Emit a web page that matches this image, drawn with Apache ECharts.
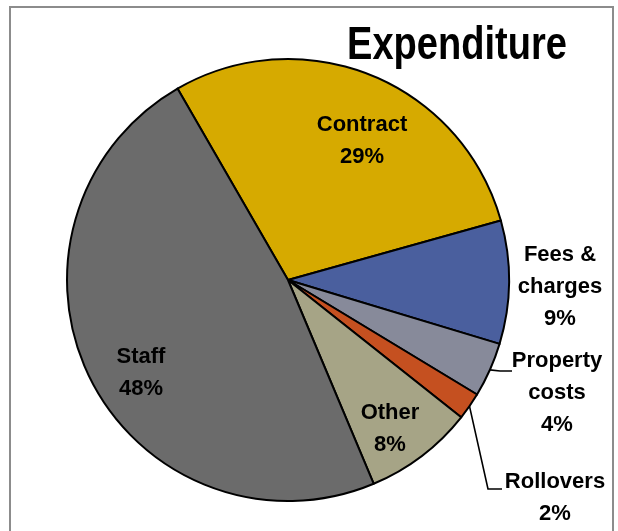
<!DOCTYPE html>
<html>
<head>
<meta charset="utf-8">
<script src="https://cdn.jsdelivr.net/npm/echarts@6/dist/echarts.min.js"></script>
<style>
  html, body { margin: 0; padding: 0; background: #fff; }
  #chart { width: 618px; height: 531px; }
</style>
</head>
<body>
<div id="chart"></div>
<script>
// Expenditure breakdown, in percent, listed clockwise from the top
const categories = ['Contract', 'Fees & charges', 'Property costs', 'Rollovers', 'Other', 'Staff'];
const labelNames = ['Contract', 'Fees &\ncharges', 'Property\ncosts', 'Rollovers', 'Other', 'Staff'];
const values = [29, 9, 4, 2, 8, 48];
const sliceColors = ['#D6AA00', '#4A5F9E', '#878A9A', '#C55020', '#A6A486', '#6B6B6B'];
const chartTitle = 'Expenditure';

// label anchor points and which labels sit outside with a leader line
const labelAnchors = [[362, 141], [560, 287], [557, 393], [555, 498], [390, 429], [141, 373]];
const leaderBends = [null, null, [[500, 371], [512, 371]], [[488, 489], [502, 489]], null, null];
const outsideLabel = [false, true, true, true, false, false];

const FONT = '"Liberation Sans", Arial, sans-serif';

const chart = echarts.init(document.getElementById('chart'), null, { renderer: 'canvas' });

const data = categories.map((name, i) => ({
  name: name,
  value: values[i],
  itemStyle: { color: sliceColors[i] },
  label: { position: outsideLabel[i] ? 'outside' : 'inside' },
  labelLine: { show: !!leaderBends[i] }
}));

chart.setOption({
  backgroundColor: '#ffffff',
  animation: false,
  graphic: [{
    type: 'rect',
    shape: { x: 10, y: 7, width: 603, height: 540 },
    style: { fill: 'none', stroke: '#8c8c8c', lineWidth: 2 },
    silent: true,
    z: -1
  }, {
    // condensed bold heading
    type: 'text',
    x: 347,
    y: 70,
    scaleX: 0.81,
    silent: true,
    style: {
      text: chartTitle,
      x: 0,
      y: 0,
      align: 'left',
      verticalAlign: 'bottom',
      fontFamily: FONT,
      fontSize: 47,
      fontWeight: 'bold',
      fill: '#000'
    }
  }],
  series: [{
    type: 'pie',
    center: [288, 280],
    radius: 221,
    startAngle: 120,
    clockwise: true,
    avoidLabelOverlap: false,
    itemStyle: { borderColor: '#000', borderWidth: 2 },
    label: {
      show: true,
      formatter: p => labelNames[p.dataIndex] + '\n' + p.value + '%',
      fontFamily: FONT,
      fontSize: 22,
      fontWeight: 'bold',
      lineHeight: 32,
      color: '#000',
      align: 'center'
    },
    labelLine: {
      show: true,
      lineStyle: { color: '#000', width: 1.6 }
    },
    labelLayout: function (p) {
      const i = p.dataIndex;
      const out = {
        x: labelAnchors[i][0],
        y: labelAnchors[i][1],
        align: 'center',
        verticalAlign: 'middle'
      };
      if (leaderBends[i] && p.labelLinePoints) {
        out.labelLinePoints = [p.labelLinePoints[0]].concat(leaderBends[i]);
      }
      return out;
    },
    emphasis: { disabled: true },
    data: data
  }]
});
</script>
</body>
</html>
